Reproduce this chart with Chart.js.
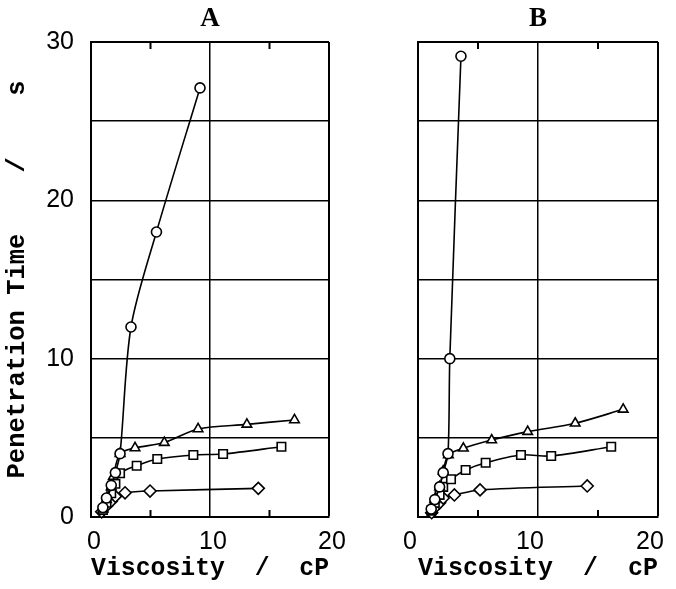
<!DOCTYPE html>
<html>
<head>
<meta charset="utf-8">
<script src="https://cdn.jsdelivr.net/npm/chart.js@4.4.1/dist/chart.umd.min.js"></script>
<style>
  html, body { margin: 0; padding: 0; background: #fff; overflow: hidden; }
  #wrapA { position: absolute; left: 0; top: 0; width: 345px; height: 589px; }
  #wrapB { position: absolute; left: 340px; top: 0; width: 336px; height: 589px; }
</style>
</head>
<body>
<div id="wrapA"><canvas id="chartA"></canvas></div>
<div id="wrapB"><canvas id="chartB"></canvas></div>
<script>
// axis ticks
const xTickLabels = ['0', '10', '20'];
const yTickLabels = ['0', '10', '20', '30'];
const xMinorTicks = [5, 15];

// panel A
const aCircleX = [1.0, 1.3, 1.7, 2.05, 2.44, 3.36, 5.5, 9.16];
const aCircleY = [0.6, 1.2, 2.0, 2.8, 4.0, 12.0, 18.0, 27.1];
const aTriX = [1.0, 1.3, 1.7, 1.87, 2.44, 3.7, 6.16, 9.0, 13.1, 17.1];
const aTriY = [0.5, 1.1, 1.9, 2.55, 4.0, 4.36, 4.7, 5.56, 5.85, 6.13];
const aSquareX = [1.0, 1.3, 1.7, 2.05, 2.44, 3.84, 5.57, 8.6, 11.1, 16.0];
const aSquareY = [0.45, 0.9, 1.5, 2.1, 2.76, 3.24, 3.66, 3.92, 3.98, 4.44];
const aDiamondX = [0.9, 1.3, 1.7, 2.05, 2.86, 4.96, 14.06];
const aDiamondY = [0.33, 0.7, 1.0, 1.3, 1.53, 1.64, 1.81];

// panel B
const bCircleX = [1.1, 1.4, 1.8, 2.1, 2.5, 2.65, 3.58];
const bCircleY = [0.5, 1.1, 1.9, 2.8, 4.0, 10.0, 29.1];
const bTriX = [1.1, 1.4, 1.8, 2.1, 2.53, 3.78, 6.14, 9.14, 13.1, 17.1];
const bTriY = [0.45, 1.1, 1.9, 2.9, 3.92, 4.34, 4.86, 5.39, 5.92, 6.8];
const bSquareX = [1.1, 1.4, 1.8, 2.1, 2.75, 3.97, 5.64, 8.58, 11.1, 16.1];
const bSquareY = [0.4, 0.9, 1.4, 1.9, 2.38, 2.97, 3.43, 3.92, 3.85, 4.44];
const bDiamondX = [1.14, 1.4, 1.8, 2.1, 3.03, 5.17, 14.1];
const bDiamondY = [0.27, 0.6, 0.9, 1.2, 1.39, 1.71, 1.96];

function pts(xs, ys) {
    return xs.map((x, i) => ({ x: x, y: ys[i] }));
}

function series(xs, ys, style, r) {
    return {
        data: pts(xs, ys),
        borderColor: '#000',
        borderWidth: 1.6,
        pointStyle: style,
        pointRadius: r,
        pointBorderWidth: 1.6,
        pointBackgroundColor: '#fff',
        pointBorderColor: '#000',
        tension: 0.3,
        showLine: true,
        clip: false
    };
}

// small inward tick marks on top and bottom edges
const innerTicks = {
    id: 'innerTicks',
    afterDraw(chart) {
        const { ctx, chartArea, scales } = chart;
        ctx.save();
        ctx.strokeStyle = '#000';
        ctx.lineWidth = 2;
        xMinorTicks.forEach(v => {
            const px = scales.x.getPixelForValue(v);
            ctx.beginPath();
            ctx.moveTo(px, chartArea.top);
            ctx.lineTo(px, chartArea.top + 7);
            ctx.moveTo(px, chartArea.bottom);
            ctx.lineTo(px, chartArea.bottom - 7);
            ctx.stroke();
        });
        ctx.restore();
    }
};

function makeChart(id, letter, datasets, showY, yWidth, padRight, labelShift) {
    const ctx = document.getElementById(id).getContext('2d');
    return new Chart(ctx, {
        type: 'scatter',
        data: { datasets: datasets },
        plugins: [innerTicks],
        options: {
            responsive: true,
            maintainAspectRatio: false,
            animation: false,
            layout: { padding: { left: 0, right: padRight, top: 0, bottom: 0 } },
            plugins: {
                legend: { display: false },
                tooltip: { enabled: false },
                title: {
                    display: true,
                    text: letter,
                    fullSize: false,
                    color: '#000',
                    font: { family: 'Liberation Serif', size: 27, weight: 'bold', lineHeight: 1.2 },
                    padding: { top: 3, bottom: 6.6 }
                }
            },
            scales: {
                x: {
                    type: 'linear',
                    min: 0, max: 20,
                    afterFit: s => { s.height = 72; s.paddingLeft = 0; s.paddingRight = 0; },
                    afterBuildTicks: s => { s.ticks = [0, 5, 10, 15, 20].map(v => ({ value: v })); },
                    ticks: {
                        color: '#000',
                        padding: 10,
                        maxRotation: 0,
                        labelOffset: labelShift,
                        font: { family: 'Liberation Sans', size: 25 },
                        callback: v => xTickLabels.includes(String(v)) ? String(v) : ''
                    },
                    grid: {
                        drawTicks: false,
                        color: c => (c.tick && (c.tick.value === 10 || c.tick.value === 20)) ? '#000' : 'rgba(0,0,0,0)',
                        lineWidth: c => (c.tick && c.tick.value === 20) ? 2 : 1.5
                    },
                    border: { display: true, color: '#000', width: 2 },
                    title: {
                        display: true,
                        text: 'Viscosity  /  cP',
                        color: '#000',
                        font: { family: 'Liberation Mono', size: 25.5, weight: 'bold', lineHeight: 1.2 },
                        padding: { top: 0, bottom: 5 }
                    }
                },
                y: {
                    type: 'linear',
                    min: 0, max: 30,
                    afterFit: s => { s.width = yWidth; s.paddingTop = 0; s.paddingBottom = 0; },
                    afterBuildTicks: s => { s.ticks = [0, 5, 10, 15, 20, 25, 30].map(v => ({ value: v })); },
                    ticks: {
                        display: showY,
                        color: '#000',
                        padding: 17,
                        font: { family: 'Liberation Sans', size: 25 },
                        callback: v => yTickLabels.includes(String(v)) ? String(v) : ''
                    },
                    grid: {
                        drawTicks: false,
                        color: '#000',
                        lineWidth: c => (c.tick && c.tick.value === 30) ? 2 : 1.5
                    },
                    border: { display: true, color: '#000', width: 2 },
                    title: {
                        display: showY,
                        text: 'Penetration Time    /    s',
                        color: '#000',
                        font: { family: 'Liberation Mono', size: 25.5, weight: 'bold', lineHeight: 1.2 },
                        padding: { top: 2, bottom: 0 }
                    }
                }
            }
        }
    });
}

makeChart('chartA', 'A', [
    series(aCircleX, aCircleY, 'circle', 5),
    series(aTriX, aTriY, 'triangle', 5.5),
    series(aSquareX, aSquareY, 'rect', 6),
    series(aDiamondX, aDiamondY, 'rectRot', 6)
], true, 91, 16, 3);

makeChart('chartB', 'B', [
    series(bCircleX, bCircleY, 'circle', 5),
    series(bTriX, bTriY, 'triangle', 5.5),
    series(bSquareX, bSquareY, 'rect', 6),
    series(bDiamondX, bDiamondY, 'rectRot', 6)
], false, 78, 18, -8);
</script>
</body>
</html>
